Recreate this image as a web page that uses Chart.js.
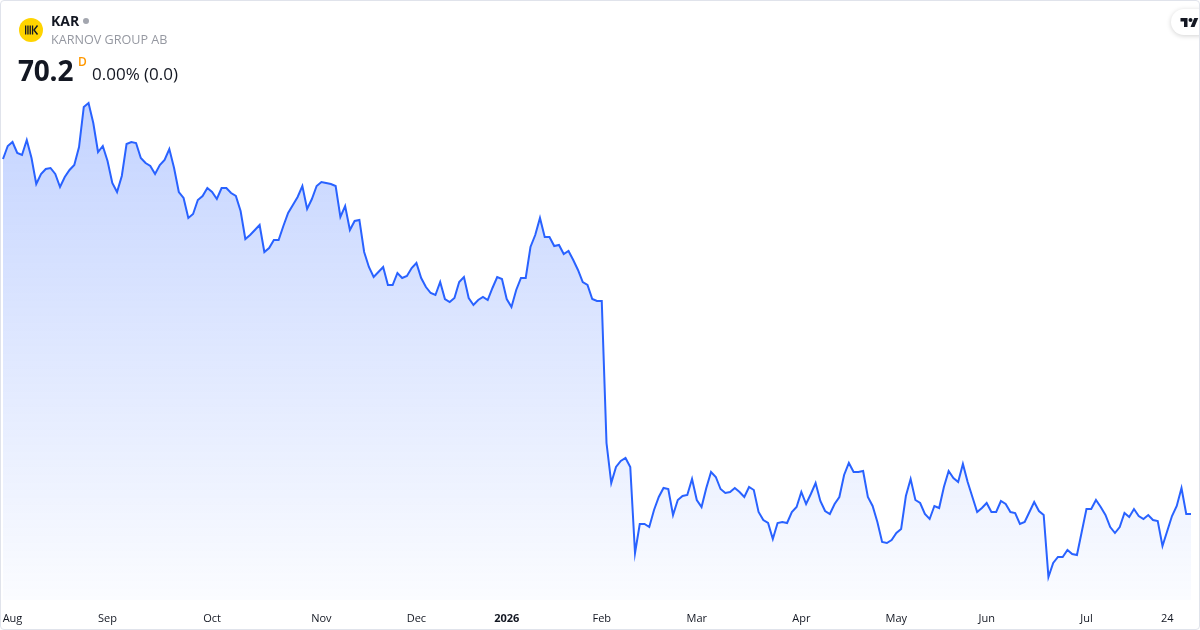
<!DOCTYPE html>
<html>
<head>
<meta charset="utf-8">
<script src="https://cdn.jsdelivr.net/npm/chart.js@4.4.1/dist/chart.umd.min.js"></script>
<style>
  html, body { margin: 0; padding: 0; background: #fff; }
  body { font-family: "Open Sans", sans-serif; color: #131722; }
  .card {
    position: relative;
    width: 1198px;
    height: 628px;
    border: 1px solid #e0e3eb;
    border-radius: 4px;
    overflow: hidden;
    background: #fff;
  }
  .chart-wrap { position: absolute; left: -1px; top: -1px; width: 1200px; height: 630px; }
  .header { position: absolute; left: 0; top: 0; z-index: 2; }
  .logo {
    position: absolute; left: 18px; top: 17px;
    width: 24px; height: 24px; border-radius: 50%;
    background: #ffd400;
  }
  .symbol { position: absolute; left: 50px; top: 10px; font-size: 14px; font-weight: 700; white-space: nowrap; }
  .dot { position: absolute; left: 82px; top: 17px; width: 6px; height: 6px; border-radius: 50%; background: #a3a6af; }
  .name { position: absolute; left: 50px; top: 30px; font-size: 12.6px; color: #9598a1; white-space: nowrap; }
  .price { position: absolute; left: 17px; top: 50px; font-size: 28px; font-weight: 700; white-space: nowrap; letter-spacing: -0.2px; }
  .flag { position: absolute; left: 77px; top: 52px; font-size: 12px; color: #ff9800; font-weight: 600; }
  .change { position: absolute; left: 91px; top: 61px; font-size: 17px; white-space: nowrap; }
  .tv {
    position: absolute; right: -12px; top: 8px; z-index: 2;
    width: 40px; height: 26px; border-radius: 13px;
    background: #fff; box-shadow: 0 1px 5px rgba(0,0,0,0.18);
  }
  .tv svg { position: absolute; left: 9px; top: 7px; }
</style>
</head>
<body>
<div class="card">
  <div class="chart-wrap"><canvas id="priceChart"></canvas></div>
  <div class="header">
    <div class="logo">
      <svg width="24" height="24" viewBox="0 0 24 24">
        <rect x="6" y="7.5" width="1.3" height="9" fill="#131722"/>
        <rect x="8.3" y="7.5" width="1.3" height="9" fill="#131722"/>
        <rect x="10.6" y="7.5" width="1.3" height="9" fill="#131722"/>
        <rect x="12.9" y="7.5" width="1.3" height="9" fill="#131722"/>
        <path d="M18.5 7.5 L15 12 L18.5 16.5" stroke="#131722" stroke-width="1.4" fill="none"/>
      </svg>
    </div>
    <div class="symbol">KAR</div>
    <div class="dot"></div>
    <div class="name">KARNOV GROUP AB</div>
    <div class="price">70.2</div>
    <div class="flag">D</div>
    <div class="change">0.00% (0.0)</div>
  </div>
  <div class="tv">
    <svg width="19" height="12" viewBox="0 0 36 24">
      <path d="M14 22H7V11H0V4h14v18z" fill="#131722"/>
      <path d="M28 22h-8l7.5-18h8L28 22z" fill="#131722"/>
      <circle cx="20" cy="8" r="4" fill="#131722"/>
    </svg>
  </div>
</div>

<script>
// daily closes, Aug 2025 - Jul 2026
const closes = [
  105.7, 107.0, 107.4, 106.3, 106.1, 107.6, 105.8, 103.2, 104.2, 104.7,
  104.8, 104.2, 102.9, 103.9, 104.6, 105.1, 106.9, 110.9, 111.3, 109.3,
  106.4, 107.0, 105.5, 103.3, 102.4, 104.0, 107.2, 107.4, 107.3, 105.8,
  105.3, 105.0, 104.2, 105.1, 105.6, 106.7, 104.8, 102.4, 101.8, 99.8,
  100.2, 101.6, 102.0, 102.8, 102.4, 101.7, 102.8, 102.8, 102.3, 102.0,
  100.5, 97.7, 98.1, 98.6, 99.1, 96.4, 96.8, 97.6, 97.6, 99.0,
  100.3, 101.1, 101.9, 103.0, 100.7, 101.7, 103.0, 103.4, 103.3, 103.2,
  103.0, 99.9, 101.0, 98.6, 99.5, 99.6, 96.4, 94.9, 93.9, 94.4,
  94.9, 93.1, 93.1, 94.3, 93.8, 94.0, 94.8, 95.3, 93.8, 92.9,
  92.3, 92.1, 93.4, 91.7, 91.4, 91.8, 93.4, 93.9, 91.8, 91.1,
  91.6, 91.9, 91.6, 92.8, 93.9, 93.7, 91.7, 90.9, 92.6, 93.8,
  93.8, 96.9, 98.1, 99.8, 97.9, 97.9, 97.0, 97.1, 96.2, 96.5,
  95.6, 94.6, 93.4, 93.1, 91.7, 91.5, 91.5, 77.3, 73.3, 74.9,
  75.5, 75.8, 74.9, 66.3, 69.2, 69.2, 68.9, 70.6, 71.9, 72.8,
  72.7, 70.1, 71.6, 72.0, 72.1, 73.7, 71.6, 70.9, 72.8, 74.4,
  73.9, 72.7, 72.3, 72.4, 72.8, 72.4, 71.9, 72.9, 72.6, 70.4,
  69.6, 69.3, 67.7, 69.3, 69.4, 69.3, 70.4, 70.9, 72.4, 71.2,
  72.2, 73.3, 71.5, 70.5, 70.2, 71.2, 71.9, 74.1, 75.3, 74.4,
  74.4, 74.5, 71.9, 71.0, 69.4, 67.4, 67.3, 67.6, 68.3, 68.7,
  72.0, 73.7, 71.6, 71.3, 70.2, 69.7, 71.0, 70.8, 72.9, 74.5,
  73.8, 73.4, 75.2, 73.4, 71.9, 70.4, 70.8, 71.3, 70.4, 70.4,
  71.5, 71.2, 70.4, 70.3, 69.2, 69.4, 70.4, 71.4, 70.5, 70.1,
  63.9, 65.3, 65.9, 65.9, 66.6, 66.2, 66.1, 68.4, 70.7, 70.7,
  71.6, 70.9, 70.1, 68.9, 68.3, 68.9, 70.3, 69.9, 70.7, 70.0,
  69.7, 70.1, 69.6, 69.5, 67.0, 68.5, 70.0, 71.0, 72.8, 70.2,
  70.2
];

// axis labels and the bar index they sit on
const tickLabels = ['Aug', 'Sep', 'Oct', 'Nov', 'Dec', '2026', 'Feb', 'Mar', 'Apr', 'May', 'Jun', 'Jul', '24'];
const tickIndexes = [2, 22, 44, 67, 87, 106, 126, 146, 168, 188, 207, 228, 245];

const yMin = 61.6;
const yMax = 115.6;

document.addEventListener('DOMContentLoaded', () => {
  initPriceChart();
});

function buildLabels() {
  const labels = closes.map(() => '');
  tickIndexes.forEach((idx, i) => { labels[idx] = tickLabels[i]; });
  return labels;
}

function areaGradient(context) {
  const { ctx, chartArea } = context.chart;
  if (!chartArea) return 'rgba(41, 98, 255, 0.15)';
  const g = ctx.createLinearGradient(0, chartArea.top + 40, 0, chartArea.bottom);
  g.addColorStop(0, 'rgba(41, 98, 255, 0.28)');
  g.addColorStop(1, 'rgba(41, 98, 255, 0.02)');
  return g;
}

function initPriceChart() {
  const ctx = document.getElementById('priceChart');
  if (!ctx) return;
  new Chart(ctx, {
    type: 'line',
    data: {
      labels: buildLabels(),
      datasets: [{
        data: closes,
        borderColor: '#2962ff',
        borderWidth: 2,
        backgroundColor: areaGradient,
        fill: 'start',
        tension: 0,
        pointRadius: 0,
        pointHoverRadius: 0
      }]
    },
    options: {
      responsive: true,
      maintainAspectRatio: false,
      animation: false,
      layout: { padding: { left: 3, right: 9, top: 60, bottom: 0 } },
      plugins: { legend: { display: false }, tooltip: { enabled: false } },
      scales: {
        y: { display: false, min: yMin, max: yMax },
        x: {
          offset: false,
          grid: { display: false, drawTicks: false },
          border: { display: false },
          afterFit: (scale) => {
            scale.paddingLeft = 0;
            scale.paddingRight = 0;
            scale.height = 30;
          },
          ticks: {
            autoSkip: false,
            maxRotation: 0,
            padding: 12,
            color: '#131722',
            font: (c) => ({
              family: 'Open Sans',
              size: 11,
              weight: c.tick && c.tick.label === '2026' ? 'bold' : 'normal'
            })
          }
        }
      }
    }
  });
}
</script>
</body>
</html>
